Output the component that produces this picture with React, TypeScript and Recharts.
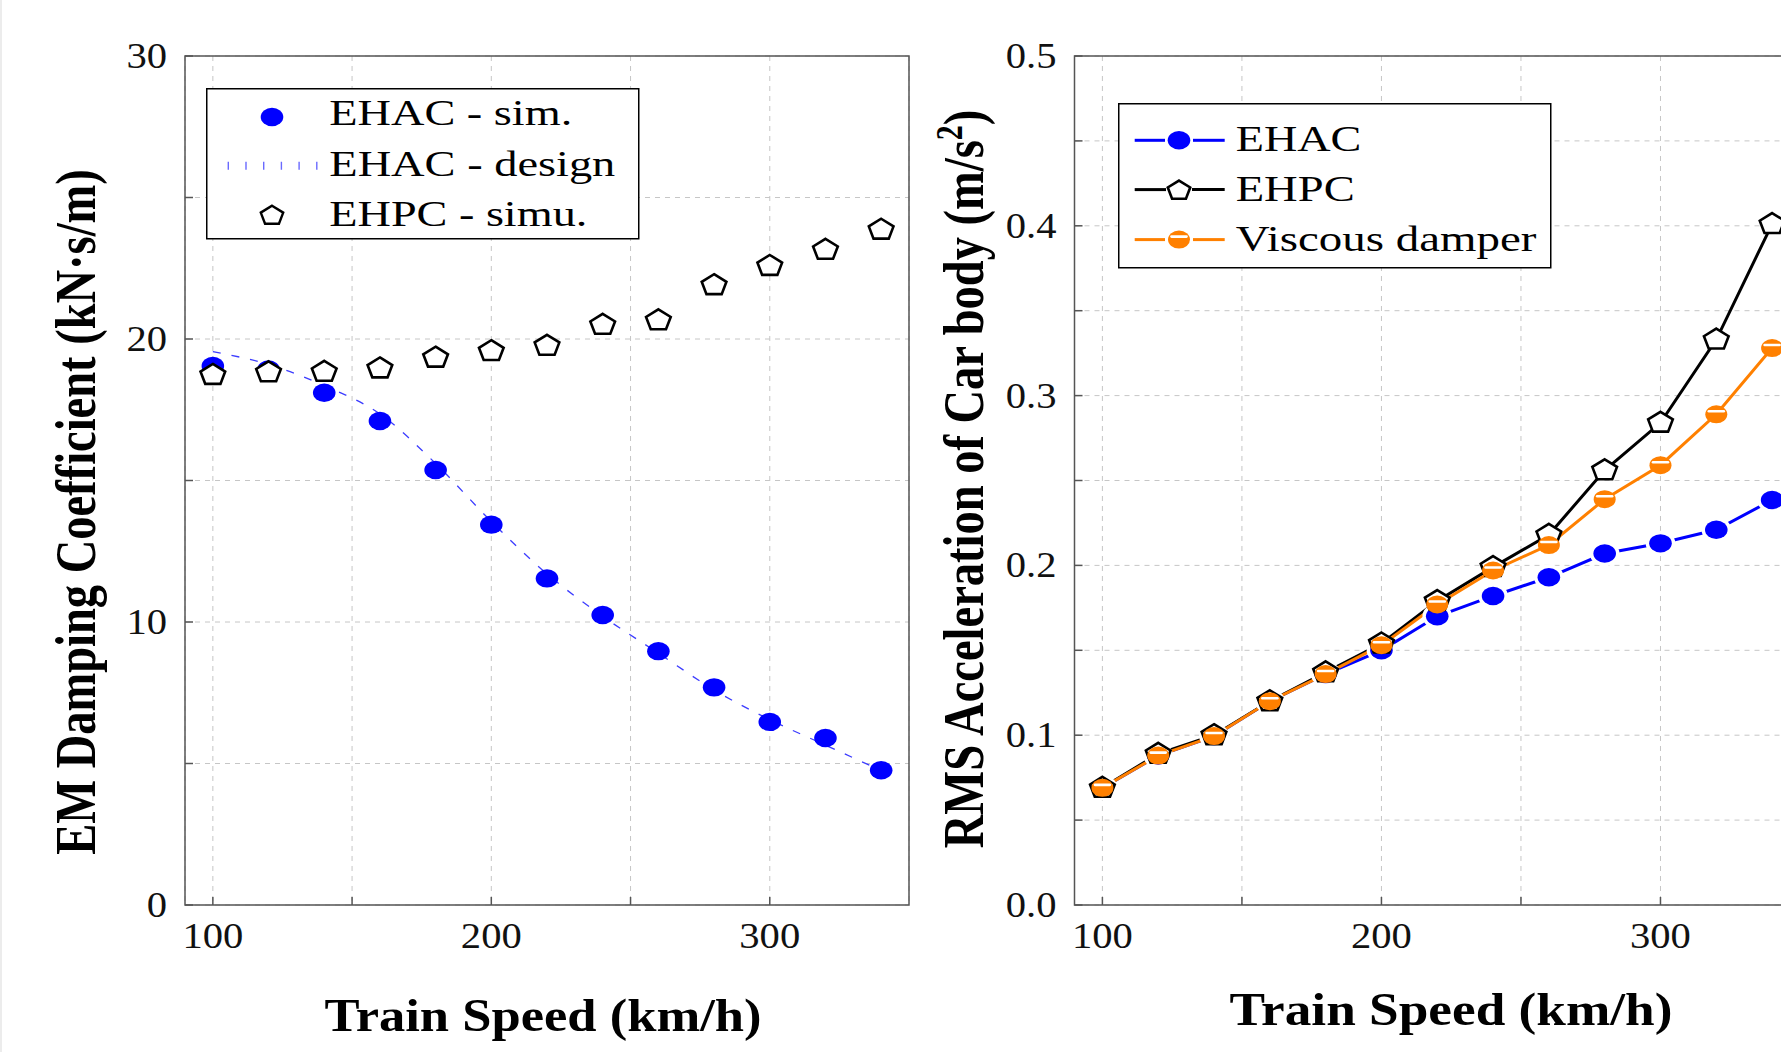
import React from 'react';
import {
  CartesianGrid,
  Legend,
  Line,
  LineChart,
  ReferenceArea,
  XAxis,
  YAxis,
} from 'recharts';

// train speed (km/h)
const SPEEDS = [100, 120, 140, 160, 180, 200, 220, 240, 260, 280, 300, 320, 340];

// left panel: EM damping coefficient (kN·s/m)
const EHAC_SIM = [19.05, 18.92, 18.1, 17.1, 15.37, 13.44, 11.54, 10.25, 8.97, 7.69, 6.47, 5.9, 4.76];
const EHAC_DESIGN = [19.55, 19.1, 18.35, 17.35, 15.6, 13.55, 11.7, 10.2, 8.9, 7.6, 6.55, 5.65, 4.75];
const EHPC_SIM = [18.73, 18.82, 18.84, 18.96, 19.34, 19.57, 19.76, 20.5, 20.66, 21.9, 22.58, 23.15, 23.86];

// right panel: RMS acceleration of car body (m/s^2)
const RMS_EHAC = [0.069, 0.088, 0.0995, 0.12, 0.136, 0.15, 0.17, 0.182, 0.193, 0.207, 0.213, 0.221, 0.2385];
const RMS_EHPC = [0.069, 0.089, 0.1, 0.12, 0.137, 0.154, 0.179, 0.199, 0.218, 0.256, 0.284, 0.333, 0.401];
const RMS_VISCOUS = [0.069, 0.088, 0.0995, 0.12, 0.136, 0.153, 0.177, 0.197, 0.212, 0.239, 0.259, 0.289, 0.328];

const X_DOMAIN = [90, 350];
const X_TICKS = [100, 150, 200, 250, 300];
const DAMP_TICKS = [0, 5, 10, 15, 20, 25, 30];
const RMS_TICKS = [0, 0.05, 0.1, 0.15, 0.2, 0.25, 0.3, 0.35, 0.4, 0.45, 0.5];

const SERIF = "'Liberation Serif', 'Times New Roman', Times, serif";
const BLUE = '#0000ff';
const ORANGE = '#ff8000';
const FRAME = '#555';
const GRID = '#c6c6c6';
const GAP = 20; // tickMargin, used to find the axis line back from tick props

const dampData = SPEEDS.map((s, i) => ({
  speed: s,
  sim: EHAC_SIM[i],
  design: EHAC_DESIGN[i],
  ehpc: EHPC_SIM[i],
}));

const rmsData = SPEEDS.map((s, i) => ({
  speed: s,
  ehac: RMS_EHAC[i],
  ehpc: RMS_EHPC[i],
  viscous: RMS_VISCOUS[i],
}));

function pentagonPath(cx: number, cy: number, r = 11, sx = 1.18) {
  const pts: string[] = [];
  for (let k = 0; k < 5; k++) {
    const a = ((-90 + k * 72) * Math.PI) / 180;
    pts.push(`${(cx + sx * r * Math.cos(a)).toFixed(2)},${(cy + r * Math.sin(a)).toFixed(2)}`);
  }
  return `M${pts.join('L')}Z`;
}

const blueDot = (halo: boolean) => (p: any) => (
  <ellipse
    key={`b-${p.index}`}
    cx={p.cx}
    cy={p.cy}
    rx={11.3}
    ry={9.2}
    fill={BLUE}
    stroke={halo ? '#fff' : 'none'}
    strokeWidth={halo ? 7 : 0}
    style={{ paintOrder: 'stroke' }}
  />
);

const pentDot = (p: any) => (
  <path
    key={`p-${p.index}`}
    d={pentagonPath(p.cx, p.cy)}
    fill='#fff'
    stroke='#000'
    strokeWidth={2.6}
    strokeLinejoin='miter'
  />
);

const orangeDot = (p: any) => (
  <g key={`o-${p.index}`}>
    <ellipse cx={p.cx} cy={p.cy} rx={11} ry={9} fill={ORANGE} />
    <line
      x1={p.cx - 7.5}
      x2={p.cx + 7.5}
      y1={p.cy - 3}
      y2={p.cy - 3}
      stroke='#fff'
      strokeWidth={2.6}
      strokeLinecap='round'
    />
  </g>
);

const XTick = (props: any) => {
  const { x, y, payload } = props;
  const axisY = y - GAP;
  const v = payload.value;
  return (
    <g>
      <line x1={x} x2={x} y1={axisY} y2={axisY - 8} stroke={FRAME} strokeWidth={1.5} />
      {v % 100 === 0 && (
        <text
          transform={`translate(${x},${axisY + 43}) scale(1.16,1)`}
          textAnchor='middle'
          fontFamily={SERIF}
          fontSize={35}
          fill='#111'
        >
          {v}
        </text>
      )}
    </g>
  );
};

const makeYTick = (fmt: (v: number) => string | null) => (props: any) => {
  const { x, y, payload } = props;
  const axisX = x + GAP;
  const label = fmt(payload.value);
  return (
    <g>
      <line x1={axisX} x2={axisX + 8} y1={y} y2={y} stroke={FRAME} strokeWidth={1.5} />
      {label !== null && (
        <text
          transform={`translate(${axisX - 18},${y}) scale(1.16,1)`}
          textAnchor='end'
          dy='0.34em'
          fontFamily={SERIF}
          fontSize={35}
          fill='#111'
        >
          {label}
        </text>
      )}
    </g>
  );
};

const DampYTick = makeYTick((v) => (v % 10 === 0 ? String(v) : null));
const RmsYTick = makeYTick((v) => (Math.round(v * 100) % 10 === 0 ? v.toFixed(1) : null));

const XTitle = ({ tx, ty, len }: { tx: number; ty: number; len: number }) => (
  <text
    x={tx}
    y={ty}
    textAnchor='middle'
    fontFamily={SERIF}
    fontWeight='bold'
    fontSize={46}
    textLength={len}
    lengthAdjust='spacingAndGlyphs'
    fill='#000'
  >
    Train Speed (km/h)
  </text>
);

const YTitle = ({ tx, ty, children }: { tx: number; ty: number; children: React.ReactNode }) => (
  <text
    transform={`translate(${tx},${ty}) scale(1.23,1) rotate(-90)`}
    textAnchor='middle'
    fontFamily={SERIF}
    fontWeight='bold'
    fontSize={46.5}
    fill='#000'
  >
    {children}
  </text>
);

const legendText = (x: number, y: number, len: number, s: string) => (
  <text
    x={x}
    y={y}
    fontFamily={SERIF}
    fontSize={35}
    textLength={len}
    lengthAdjust='spacingAndGlyphs'
    fill='#000'
  >
    {s}
  </text>
);

const DampLegend = () => (
  <svg width={434} height={152} style={{ display: 'block' }}>
    <rect x={0.75} y={0.75} width={432} height={150} fill='#fff' stroke='#000' strokeWidth={1.5} />
    <ellipse cx={66} cy={29} rx={11.3} ry={9.2} fill={BLUE} />
    {legendText(123.3, 37.4, 243, 'EHAC - sim.')}
    <line x1={21.6} x2={112} y1={77.7} y2={77.7} stroke='#6a6aff' strokeWidth={8} strokeDasharray='1.4 16.3' />
    {legendText(123.3, 88.3, 286, 'EHAC - design')}
    <path d={pentagonPath(66, 127.7, 10)} fill='#fff' stroke='#000' strokeWidth={2.4} />
    {legendText(123.3, 138.2, 258, 'EHPC - simu.')}
  </svg>
);

const RmsLegend = () => (
  <svg width={434} height={166} style={{ display: 'block' }}>
    <rect x={0.75} y={0.75} width={432} height={164} fill='#fff' stroke='#000' strokeWidth={1.5} />
    <line x1={16.7} x2={47} y1={37.3} y2={37.3} stroke={BLUE} strokeWidth={3} />
    <line x1={75} x2={106.7} y1={37.3} y2={37.3} stroke={BLUE} strokeWidth={3} />
    <ellipse cx={61} cy={37.3} rx={11.3} ry={9.2} fill={BLUE} />
    {legendText(117.7, 48.3, 125.7, 'EHAC')}
    <line x1={16.7} x2={48} y1={86.6} y2={86.6} stroke='#000' strokeWidth={3} />
    <line x1={74} x2={106.7} y1={86.6} y2={86.6} stroke='#000' strokeWidth={3} />
    <path d={pentagonPath(61, 87.6, 10)} fill='#fff' stroke='#000' strokeWidth={2.6} />
    {legendText(117.7, 97.8, 119, 'EHPC')}
    <line x1={16.7} x2={47} y1={136.6} y2={136.6} stroke={ORANGE} strokeWidth={3} />
    <line x1={75} x2={106.7} y1={136.6} y2={136.6} stroke={ORANGE} strokeWidth={3} />
    {orangeDot({ cx: 61, cy: 136.6, index: 'lg' })}
    {legendText(117.7, 148.3, 300.7, 'Viscous damper')}
  </svg>
);

function DampingChart() {
  return (
    <LineChart
      width={1000}
      height={1052}
      data={dampData}
      margin={{ top: 56, right: 91, bottom: 0, left: 0 }}
    >
      <CartesianGrid stroke={GRID} strokeDasharray='5 5' />
      <XAxis
        type='number'
        dataKey='speed'
        domain={X_DOMAIN}
        ticks={X_TICKS}
        interval={0}
        height={147}
        axisLine={false}
        tickLine={false}
        tickSize={0}
        tickMargin={GAP}
        tick={<XTick />}
        label={<XTitle tx={543} ty={1031} len={437} />}
      />
      <YAxis
        type='number'
        domain={[0, 30]}
        ticks={DAMP_TICKS}
        interval={0}
        width={185}
        axisLine={false}
        tickLine={false}
        tickSize={0}
        tickMargin={GAP}
        tick={<DampYTick />}
        label={
          <YTitle tx={95} ty={512}>
            EM Damping Coefficient (kN·s/m)
          </YTitle>
        }
      />
      <ReferenceArea x1={90} x2={350} y1={0} y2={30} fill='none' stroke={FRAME} strokeWidth={1.5} />
      <Line
        dataKey='design'
        name='EHAC - design'
        type='monotone'
        stroke='#3c3cff'
        strokeWidth={1.3}
        strokeDasharray='8 11'
        dot={false}
        activeDot={false}
        isAnimationActive={false}
      />
      <Line
        dataKey='sim'
        name='EHAC - sim.'
        stroke='none'
        dot={blueDot(false)}
        activeDot={false}
        isAnimationActive={false}
      />
      <Line
        dataKey='ehpc'
        name='EHPC - simu.'
        stroke='none'
        dot={pentDot}
        activeDot={false}
        isAnimationActive={false}
      />
      <Legend
        layout='vertical'
        align='center'
        verticalAlign='middle'
        wrapperStyle={{ left: 206, top: 88, width: 434, height: 152 }}
        content={<DampLegend />}
      />
    </LineChart>
  );
}

function RmsChart() {
  return (
    <LineChart
      width={1000}
      height={1052}
      data={rmsData}
      margin={{ top: 56, right: 100, bottom: 0, left: 0 }}
    >
      <CartesianGrid stroke={GRID} strokeDasharray='5 5' />
      <XAxis
        type='number'
        dataKey='speed'
        domain={X_DOMAIN}
        ticks={X_TICKS}
        interval={0}
        height={147}
        axisLine={false}
        tickLine={false}
        tickSize={0}
        tickMargin={GAP}
        tick={<XTick />}
        label={<XTitle tx={551} ty={1025} len={443} />}
      />
      <YAxis
        type='number'
        domain={[0, 0.5]}
        ticks={RMS_TICKS}
        interval={0}
        width={174.5}
        axisLine={false}
        tickLine={false}
        tickSize={0}
        tickMargin={GAP}
        tick={<RmsYTick />}
        label={
          <YTitle tx={83} ty={479}>
            RMS Acceleration of Car body (m/s
            <tspan dy={-17} fontSize={30}>
              2
            </tspan>
            <tspan dy={17}>)</tspan>
          </YTitle>
        }
      />
      <ReferenceArea x1={90} x2={350} y1={0} y2={0.5} fill='none' stroke={FRAME} strokeWidth={1.5} />
      <Line
        dataKey='ehac'
        name='EHAC'
        stroke={BLUE}
        strokeWidth={3}
        dot={blueDot(true)}
        activeDot={false}
        isAnimationActive={false}
      />
      <Line
        dataKey='ehpc'
        name='EHPC'
        stroke='#000'
        strokeWidth={3}
        dot={pentDot}
        activeDot={false}
        isAnimationActive={false}
      />
      <Line
        dataKey='viscous'
        name='Viscous damper'
        stroke={ORANGE}
        strokeWidth={3}
        dot={orangeDot}
        activeDot={false}
        isAnimationActive={false}
      />
      <Legend
        layout='vertical'
        align='center'
        verticalAlign='middle'
        wrapperStyle={{ left: 218, top: 103, width: 434, height: 166 }}
        content={<RmsLegend />}
      />
    </LineChart>
  );
}

export default function App() {
  return (
    <div
      style={{
        position: 'absolute',
        left: 0,
        top: 0,
        width: 1781,
        height: 1052,
        overflow: 'hidden',
        background: '#fff',
      }}
    >
      <div style={{ position: 'absolute', left: 0, top: 0, width: 2, height: 1052, background: '#ececec' }} />
      <div style={{ position: 'absolute', left: 0, top: 0 }}>
        <DampingChart />
      </div>
      <div style={{ position: 'absolute', left: 900, top: 0 }}>
        <RmsChart />
      </div>
    </div>
  );
}
